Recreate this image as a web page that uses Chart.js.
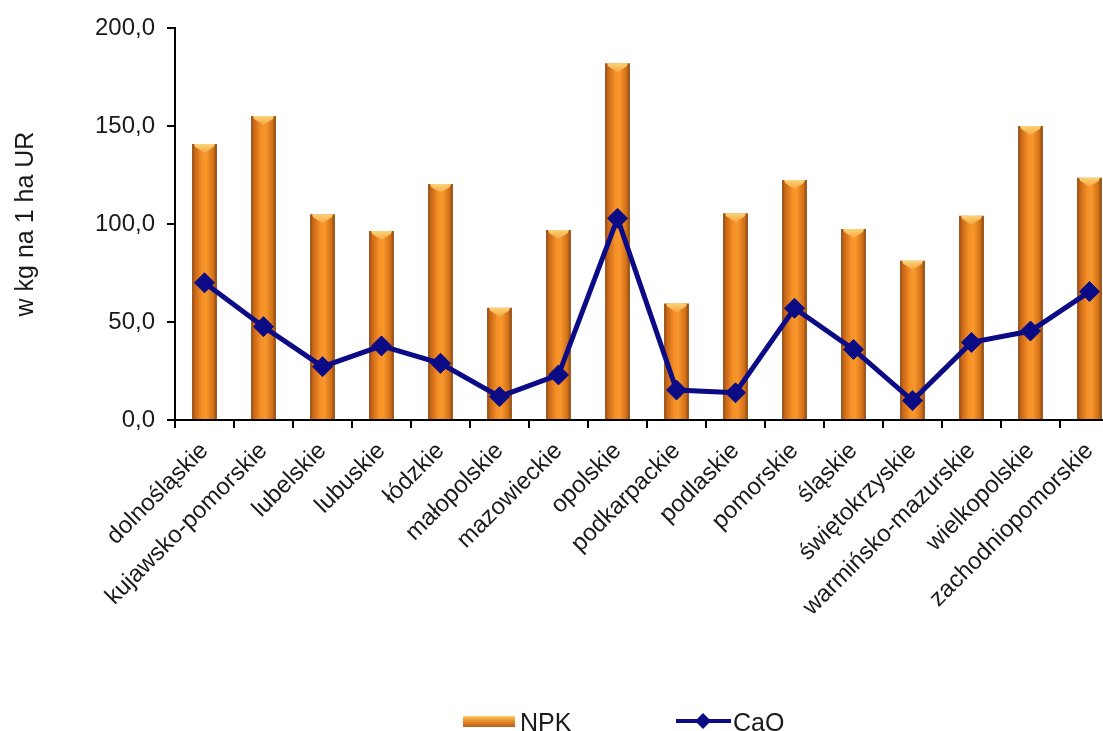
<!DOCTYPE html>
<html>
<head>
<meta charset="utf-8">
<script src="https://cdn.jsdelivr.net/npm/chart.js@4"></script>
<style>
  html, body { margin: 0; padding: 0; overflow: hidden; background: #fff; }
  #wrap { width: 1130px; height: 731px; }
</style>
</head>
<body>
<div id="wrap"><canvas id="chart" width="1130" height="731"></canvas></div>
<script>
const regions = [
    "dolnośląskie", "kujawsko-pomorskie", "lubelskie", "lubuskie", "łódzkie",
    "małopolskie", "mazowieckie", "opolskie", "podkarpackie", "podlaskie",
    "pomorskie", "śląskie", "świętokrzyskie", "warmińsko-mazurskie",
    "wielkopolskie", "zachodniopomorskie"
];
const npkValues = [140.8, 155.1, 105.0, 96.4, 120.4, 57.3, 97.0, 182.0, 59.5, 105.5, 122.4, 97.4, 81.3, 104.2, 150.0, 123.6];
const caoValues = [70.0, 47.6, 27.2, 37.8, 28.9, 11.9, 23.0, 102.9, 15.3, 13.9, 57.0, 36.0, 9.9, 39.6, 45.4, 65.5];
const yMin = 0;
const yMax = 200;
const yStep = 50;

const BAR_FRACTION = 0.42;
const FONT = "'Liberation Sans', Arial, sans-serif";
const TEXT = "#1a1a1a";
const NAVY = "#0b0b86";

function polishNumber(value) {
    return value.toFixed(1).replace(".", ",");
}

function barFill(c) {
    const chart = c.chart;
    const x = chart.scales.x;
    if (!x || c.type !== "data") return "#f0891f";
    const cx = x.getPixelForValue(c.dataIndex);
    const w = (x.getPixelForValue(1) - x.getPixelForValue(0)) * BAR_FRACTION;
    if (!Number.isFinite(cx) || !Number.isFinite(w) || w <= 0) return "#f0891f";
    const g = chart.ctx.createLinearGradient(cx - w / 2, 0, cx + w / 2, 0);
    g.addColorStop(0, "#854410");
    g.addColorStop(0.1, "#c56416");
    g.addColorStop(0.4, "#f59026");
    g.addColorStop(0.58, "#f7972c");
    g.addColorStop(0.86, "#d27018");
    g.addColorStop(1, "#854410");
    return g;
}

// light top cap on each bar, drawn over the library's bar elements
const barCaps = {
    id: "barCaps",
    afterDatasetDraw(chart, args) {
        if (args.index !== 0) return;
        const ctx = chart.ctx;
        args.meta.data.forEach((bar) => {
            const l = bar.x - bar.width / 2;
            const r = bar.x + bar.width / 2;
            const t = bar.y;
            ctx.save();
            const g = ctx.createLinearGradient(0, t, 0, t + 9);
            g.addColorStop(0, "#fbd478");
            g.addColorStop(1, "#f6a540");
            ctx.fillStyle = g;
            ctx.beginPath();
            ctx.moveTo(l + 2, t);
            ctx.lineTo(r - 2, t);
            ctx.lineTo(r - 3, t + 3);
            ctx.lineTo(bar.x, t + 9);
            ctx.lineTo(l + 3, t + 3);
            ctx.closePath();
            ctx.fill();
            ctx.restore();
        });
    }
};

// legend drawn below the axis labels
const bottomLegend = {
    id: "bottomLegend",
    afterDraw(chart) {
        const ctx = chart.ctx;
        ctx.save();
        const sw = ctx.createLinearGradient(0, 716, 0, 727);
        sw.addColorStop(0, "#fbd06a");
        sw.addColorStop(0.35, "#f1982f");
        sw.addColorStop(1, "#b85e18");
        ctx.fillStyle = sw;
        ctx.fillRect(463, 716, 52, 11);
        ctx.strokeStyle = NAVY;
        ctx.lineWidth = 4;
        ctx.beginPath();
        ctx.moveTo(676, 721);
        ctx.lineTo(731, 721);
        ctx.stroke();
        ctx.fillStyle = NAVY;
        ctx.beginPath();
        ctx.moveTo(703, 713);
        ctx.lineTo(711, 721);
        ctx.lineTo(703, 729);
        ctx.lineTo(695, 721);
        ctx.closePath();
        ctx.fill();
        ctx.fillStyle = TEXT;
        ctx.font = "25px " + FONT;
        ctx.textBaseline = "alphabetic";
        ctx.fillText("NPK", 520, 731);
        ctx.fillText("CaO", 733, 731);
        ctx.restore();
    }
};

new Chart(document.getElementById("chart"), {
    type: "bar",
    data: {
        labels: regions,
        datasets: [{
            type: "bar",
            label: "NPK",
            data: npkValues,
            backgroundColor: barFill,
            borderWidth: 0,
            categoryPercentage: 1,
            barPercentage: BAR_FRACTION,
            order: 2
        }, {
            type: "line",
            label: "CaO",
            data: caoValues,
            borderColor: NAVY,
            borderWidth: 5,
            backgroundColor: NAVY,
            pointStyle: "rectRot",
            pointRadius: 10,
            pointBackgroundColor: NAVY,
            pointBorderColor: NAVY,
            pointBorderWidth: 1,
            tension: 0,
            order: 1
        }]
    },
    options: {
        responsive: false,
        animation: false,
        layout: { padding: { top: 28, right: 11, bottom: 0, left: 0 } },
        plugins: {
            legend: { display: false },
            tooltip: { enabled: false }
        },
        scales: {
            x: {
                grid: { drawOnChartArea: false, color: "#000", lineWidth: 2, tickLength: 8, offset: true },
                border: { color: "#000", width: 2 },
                ticks: {
                    color: TEXT,
                    font: { family: FONT, size: 24 },
                    minRotation: 45,
                    maxRotation: 45,
                    padding: 9,
                    autoSkip: false
                },
                afterFit(scale) { scale.height = 311; }
            },
            y: {
                min: yMin,
                max: yMax,
                grid: { drawOnChartArea: false, color: "#000", lineWidth: 2, tickLength: 8 },
                border: { color: "#000", width: 2 },
                ticks: {
                    stepSize: yStep,
                    color: TEXT,
                    font: { family: FONT, size: 24 },
                    padding: 12,
                    callback: (v) => polishNumber(v)
                },
                title: {
                    display: true,
                    text: "w kg na 1 ha UR",
                    color: TEXT,
                    font: { family: FONT, size: 25 },
                    padding: { top: 11, bottom: 0 }
                },
                afterFit(scale) { scale.width = 175; }
            }
        }
    },
    plugins: [barCaps, bottomLegend]
});
</script>
</body>
</html>
